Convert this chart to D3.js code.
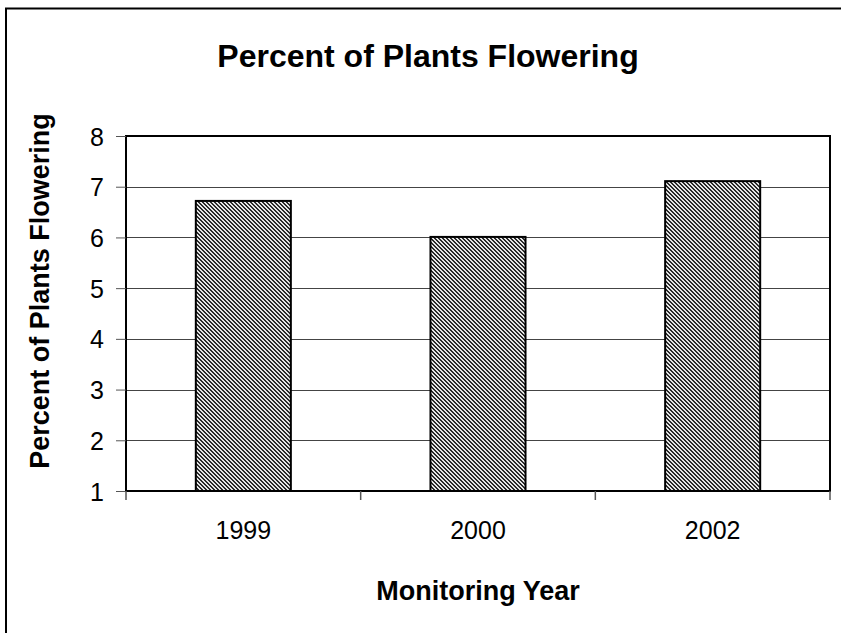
<!DOCTYPE html>
<html><head><meta charset="utf-8">
<script src="https://cdn.jsdelivr.net/npm/d3@7"></script>
<style>body{margin:0;background:#fff}svg{display:block}text{font-family:"Liberation Sans",Arial,sans-serif;fill:#000}</style>
</head><body><svg id="c" width="841" height="633"></svg>
<script>
const categories = ["1999", "2000", "2002"];
const values = [6.72, 6.01, 7.11];
const yTicks = [1, 2, 3, 4, 5, 6, 7, 8];
const title = "Percent of Plants Flowering";
const xTitle = "Monitoring Year";
const yTitle = "Percent of Plants Flowering";

const svg = d3.select("#c");
const m = {left: 126, right: 830, top: 136, bottom: 491};

// outer chart border
svg.append("rect").attr("x", 6).attr("y", 8.5).attr("width", 900).attr("height", 700)
  .attr("fill", "none").attr("stroke", "#000").attr("stroke-width", 2);

const defs = svg.append("defs");
const pat = defs.append("pattern").attr("id", "hatch").attr("patternUnits", "userSpaceOnUse")
  .attr("width", 4).attr("height", 4);
pat.append("rect").attr("width", 4).attr("height", 4).attr("fill", "#e6e6e6");
[[0,0],[1,0],[1,1],[2,1],[2,2],[3,2],[3,3],[0,3]].forEach(([x,y]) =>
  pat.append("rect").attr("x", x).attr("y", y).attr("width", 1).attr("height", 1).attr("fill", "#2a2a2a"));

const x = d3.scaleBand().domain(categories).range([m.left, m.right]).paddingInner(0.595).paddingOuter(0.2975);
const xb = d3.scaleBand().domain(categories).range([m.left, m.right]);
const y = d3.scaleLinear().domain([1, 8]).range([m.bottom, m.top]);

// gridlines
svg.append("g").selectAll("line").data(yTicks.filter(d => d > 1 && d < 8)).join("line")
  .attr("x1", m.left).attr("x2", m.right).attr("y1", d => Math.round(y(d)) + 0.5).attr("y2", d => Math.round(y(d)) + 0.5)
  .attr("stroke", "#444").attr("stroke-width", 1);

// plot border
svg.append("rect").attr("x", m.left).attr("y", m.top).attr("width", m.right - m.left).attr("height", m.bottom - m.top)
  .attr("fill", "none").attr("stroke", "#000").attr("stroke-width", 2);

// bars
svg.append("g").selectAll("rect").data(values).join("rect")
  .attr("x", (d, i) => x(categories[i])).attr("width", x.bandwidth())
  .attr("y", d => y(d)).attr("height", d => y(1) - y(d))
  .attr("fill", "url(#hatch)").attr("stroke", "#000").attr("stroke-width", 2);

// y axis
const ya = svg.append("g").attr("transform", `translate(${m.left},0)`)
  .call(d3.axisLeft(y).tickValues(yTicks).tickSize(10).tickPadding(12).tickFormat(d3.format("d")));
ya.attr("font-size", null).attr("font-family", null);
ya.select(".domain").remove();
ya.selectAll("line").attr("stroke", "#555");
ya.selectAll("text").attr("font-size", 25).attr("dy", "0.36em");

// x axis ticks at category boundaries
const bounds = categories.map(c => xb(c)).concat([m.right]);
svg.append("g").selectAll("line").data(bounds).join("line")
  .attr("x1", d => d).attr("x2", d => d).attr("y1", m.bottom).attr("y2", m.bottom + 9)
  .attr("stroke", "#555").attr("stroke-width", 1.5);
svg.append("g").selectAll("text").data(categories).join("text")
  .attr("x", d => xb(d) + xb.bandwidth() / 2).attr("y", 539).attr("text-anchor", "middle")
  .attr("font-size", 25).text(d => d);

// titles
svg.append("text").attr("x", 428).attr("y", 67).attr("text-anchor", "middle")
  .attr("font-size", 32).attr("font-weight", "bold").text(title);
svg.append("text").attr("x", 478).attr("y", 600).attr("text-anchor", "middle")
  .attr("font-size", 27).attr("font-weight", "bold").text(xTitle);
svg.append("text").attr("transform", "translate(49,291) rotate(-90)").attr("text-anchor", "middle")
  .attr("font-size", 27).attr("font-weight", "bold").text(yTitle);
</script></body></html>
